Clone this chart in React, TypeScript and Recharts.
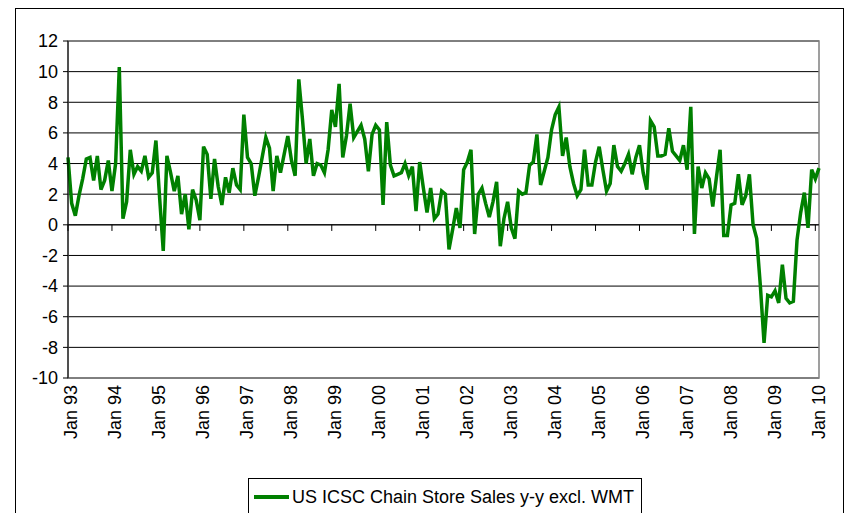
import React from 'react';
import { LineChart, Line, XAxis, YAxis, CartesianGrid, ReferenceLine, ReferenceArea } from 'recharts';

// y-y % change, monthly, Jan 93 .. Feb 10
const y1993 = [4.4, 1.4, 0.6, 1.9, 3.0, 4.3, 4.4, 2.9, 4.5, 2.3, 2.9, 4.2];
const y1994 = [2.2, 4.0, 10.3, 0.4, 1.5, 4.9, 3.3, 3.8, 3.5, 4.5, 3.1, 3.4];
const y1995 = [5.5, 1.8, -1.7, 4.5, 3.4, 2.2, 3.2, 0.7, 2.0, -0.3, 2.3, 1.6];
const y1996 = [0.3, 5.1, 4.6, 1.7, 4.3, 2.5, 1.3, 3.1, 2.1, 3.7, 2.6, 2.3];
const y1997 = [7.2, 4.4, 4.0, 1.9, 3.1, 4.4, 5.7, 5.0, 2.2, 4.5, 3.4, 4.6];
const y1998 = [5.8, 4.2, 3.2, 9.5, 6.9, 4.0, 5.6, 3.2, 4.0, 3.9, 3.4, 4.9];
const y1999 = [7.5, 6.4, 9.2, 4.4, 5.8, 7.9, 5.7, 6.1, 6.5, 5.6, 3.5, 5.9];
const y2000 = [6.5, 6.2, 1.3, 6.7, 3.9, 3.2, 3.3, 3.4, 4.0, 3.2, 3.8, 0.9];
const y2001 = [4.1, 2.4, 0.8, 2.4, 0.4, 0.7, 2.2, 2.0, -1.6, -0.3, 1.1, -0.2];
const y2002 = [3.6, 4.1, 4.9, -0.6, 2.0, 2.4, 1.4, 0.5, 1.5, 2.8, -1.4, 0.4];
const y2003 = [1.5, -0.2, -0.9, 2.2, 2.0, 2.1, 3.9, 4.1, 5.9, 2.6, 3.5, 4.4];
const y2004 = [6.2, 7.2, 7.7, 4.5, 5.7, 3.8, 2.7, 1.9, 2.3, 4.9, 2.6, 2.6];
const y2005 = [4.1, 5.1, 3.6, 2.2, 2.7, 5.2, 3.8, 3.5, 4.0, 4.6, 3.3, 4.4];
const y2006 = [5.2, 3.4, 2.3, 6.8, 6.4, 4.5, 4.5, 4.6, 6.3, 4.8, 4.5, 4.2];
const y2007 = [5.2, 3.6, 7.7, -0.6, 3.8, 2.4, 3.4, 3.0, 1.2, 3.1, 4.9, -0.7];
const y2008 = [-0.7, 1.3, 1.4, 3.3, 1.3, 1.9, 3.3, 0.0, -0.9, -4.0, -7.7, -4.6];
const y2009 = [-4.7, -4.3, -5.1, -2.6, -4.8, -5.1, -5.0, -1.0, 0.8, 2.1, -0.2, 3.6];
const y2010 = [3.0, 3.7];

const years = [
  [1993, y1993], [1994, y1994], [1995, y1995], [1996, y1996], [1997, y1997], [1998, y1998],
  [1999, y1999], [2000, y2000], [2001, y2001], [2002, y2002], [2003, y2003], [2004, y2004],
  [2005, y2005], [2006, y2006], [2007, y2007], [2008, y2008], [2009, y2009], [2010, y2010],
] as [number, number[]][];

const monthNames = ['Jan', 'Feb', 'Mar', 'Apr', 'May', 'Jun', 'Jul', 'Aug', 'Sep', 'Oct', 'Nov', 'Dec'];
const yTicks = [-10, -8, -6, -4, -2, 0, 2, 4, 6, 8, 10, 12];
const seriesName = 'US ICSC Chain Store Sales y-y excl. WMT';

const data = years.flatMap(([yr, vals]) =>
  vals.map((v, m) => ({ label: `${monthNames[m]} ${String(yr).slice(2)}`, v }))
);
const janLabels = data.filter((d) => d.label.startsWith('Jan')).map((d) => d.label);

const XTick = ({ x, y, payload }: any) => (
  <text
    transform={`translate(${x + 3},${y - 1}) rotate(-90)`}
    textAnchor="end"
    dy="0.35em"
    fontSize={18}
    fill="#000"
  >
    {payload.value}
  </text>
);

export default function App() {
  return (
    <div
      style={{
        position: 'absolute',
        left: 0,
        top: 0,
        width: 848,
        height: 513,
        overflow: 'hidden',
        background: '#fff',
        fontFamily: '"Liberation Sans", Arial, sans-serif',
      }}
    >
      <div
        style={{
          position: 'absolute',
          left: 15,
          top: 8,
          width: 827,
          height: 530,
          border: '1px solid #000',
        }}
      />
      <div style={{ position: 'absolute', left: 0, top: 0 }}>
        <LineChart width={848} height={513} data={data} margin={{ top: 41, right: 29, left: 0, bottom: 35 }}>
          <CartesianGrid vertical={false} stroke="#000" strokeWidth={1} />
          <ReferenceArea
            x1={data[0].label}
            x2={data[data.length - 1].label}
            y1={-10}
            y2={12}
            fill="none"
            stroke="#808080"
            strokeWidth={1.5}
          />
          <XAxis
            dataKey="label"
            interval={11}
            axisLine={false}
            tickLine={false}
            height={100}
            tick={<XTick />}
          />
          <YAxis
            domain={[-10, 12]}
            ticks={yTicks}
            width={68}
            stroke="#000"
            tickSize={5}
            tickMargin={5}
            tick={{ fontSize: 18, fill: '#000' }}
            allowDataOverflow
          />
          <ReferenceLine y={0} stroke="#000" strokeWidth={1} />
          {janLabels.map((l) => (
            <ReferenceLine
              key={l}
              segment={[{ x: l, y: 0 }, { x: l, y: -0.4 }]}
              stroke="#000"
              strokeWidth={1}
            />
          ))}
          <Line
            type="linear"
            dataKey="v"
            name={seriesName}
            stroke="#008000"
            strokeWidth={3.5}
            dot={false}
            isAnimationActive={false}
          />
        </LineChart>
      </div>
      <div
        style={{
          position: 'absolute',
          left: 248,
          top: 478,
          width: 392,
          height: 50,
          border: '1px solid #000',
          background: '#fff',
        }}
      >
        <div
          style={{ position: 'absolute', left: 5, top: 16, width: 35, height: 4, background: '#008000' }}
        />
        <div style={{ position: 'absolute', left: 43, top: 7, fontSize: 18, lineHeight: '22px', color: '#000', whiteSpace: 'nowrap' }}>
          {seriesName}
        </div>
      </div>
    </div>
  );
}
